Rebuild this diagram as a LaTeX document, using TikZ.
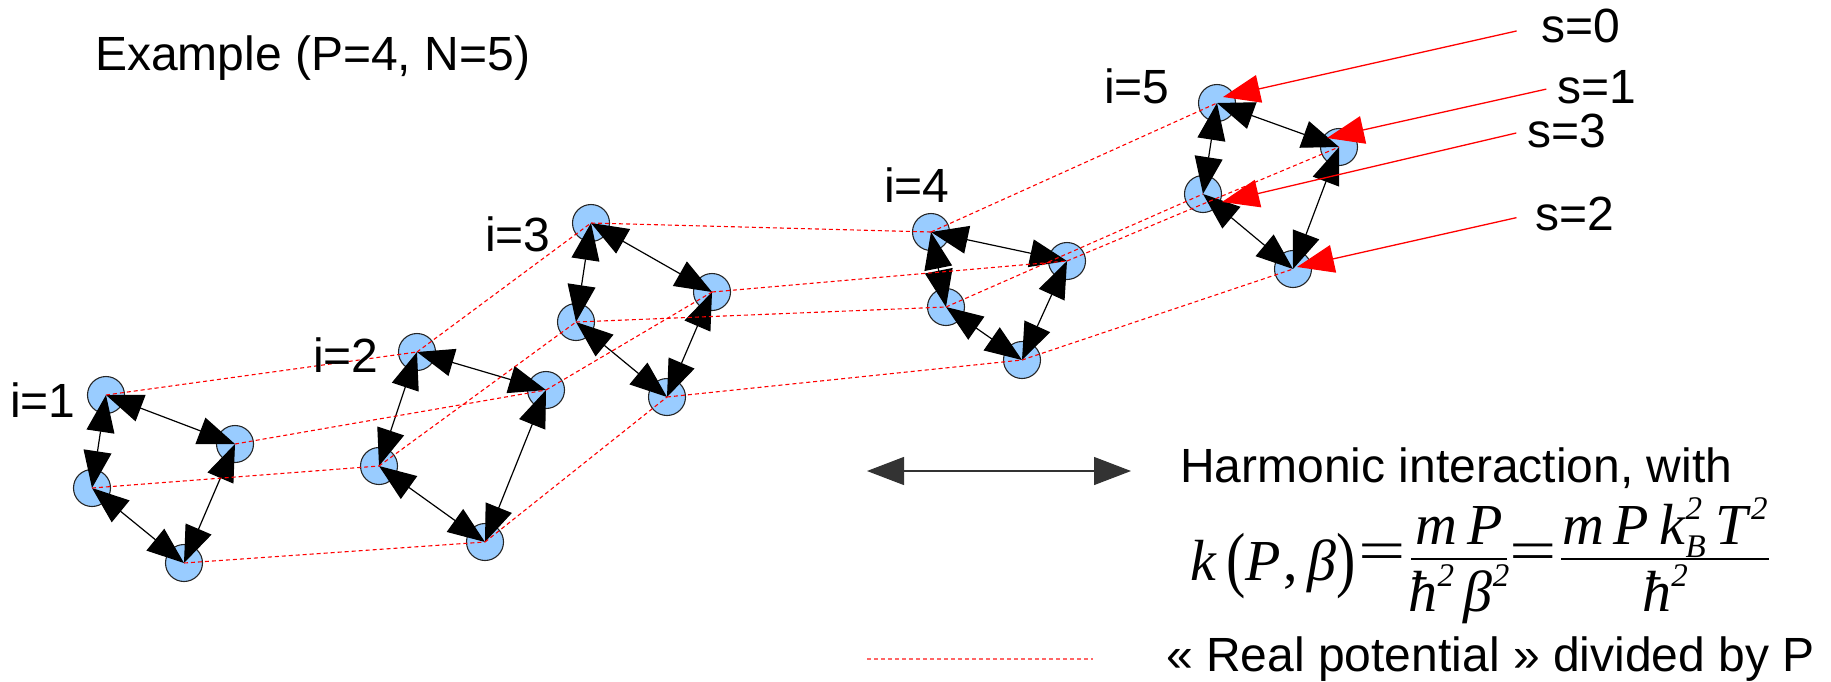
\documentclass[tikz,border=0pt]{standalone}
\usepackage{fontspec}
\usepackage{graphicx}
\setmainfont{Liberation Sans}
\newfontfamily\serifff{Liberation Serif}
\usetikzlibrary{arrows.meta}
\definecolor{beadblue}{RGB}{153,204,255}
\newcommand\supp[1]{\raisebox{0.42em}{\fontsize{33}{33}\selectfont #1}}
\newcommand\subsupp[2]{\makebox[0pt][l]{\raisebox{0.42em}{\fontsize{33}{33}\selectfont #2}}\raisebox{-0.24em}{\fontsize{33}{33}\selectfont #1}}
\begin{document}
\begin{tikzpicture}[x=1pt,y=-1pt,
  bead/.style={circle, draw=black!85, line width=1.1pt, fill=beadblue, minimum size=37pt, inner sep=0pt},
  harm/.style={black, line width=1.2pt, {Triangle[length=37pt,width=28pt]}-{Triangle[length=37pt,width=28pt]}},
  pot/.style={red, line width=1.1pt, dash pattern=on 4pt off 3pt},
  lbl/.style={anchor=base west, inner sep=0pt, font=\fontsize{48}{56}\selectfont},
  sarrow/.style={red, line width=1.3pt, -{Triangle[length=37pt,width=28pt]}},
  fml/.style={inner sep=0pt, font=\serifff\fontsize{58}{60}\selectfont},
  fbar/.style={black, line width=2.5pt},
]
\useasboundingbox (0,0) rectangle (1831,681);

% beads: t = top, r = right, b = bottom, l = left
\node[bead] (t1) at (106,395) {};
\node[bead] (r1) at (235,444) {};
\node[bead] (b1) at (184,563) {};
\node[bead] (l1) at (92,488) {};

\node[bead] (t2) at (417,352) {};
\node[bead] (r2) at (546,390) {};
\node[bead] (b2) at (485,542) {};
\node[bead] (l2) at (379,466) {};

\node[bead] (t3) at (591,223) {};
\node[bead] (r3) at (712,292) {};
\node[bead] (b3) at (667,397) {};
\node[bead] (l3) at (576,322) {};

\node[bead] (t4) at (931,232) {};
\node[bead] (r4) at (1067,261) {};
\node[bead] (b4) at (1022,360) {};
\node[bead] (l4) at (946,307) {};

\node[bead] (t5) at (1217,103) {};
\node[bead] (r5) at (1339,147) {};
\node[bead] (b5) at (1293,269) {};
\node[bead] (l5) at (1203,194) {};

% harmonic springs
\foreach \i in {1,...,5}{
  \draw[harm] (t\i.center) -- (r\i.center);
  \draw[harm] (r\i.center) -- (b\i.center);
  \draw[harm] (b\i.center) -- (l\i.center);
  \draw[harm] (l\i.center) -- (t\i.center);
}

% real potential links
\foreach \i/\j in {1/2,2/3,3/4,4/5}{
  \draw[pot] (t\i.center) -- (t\j.center);
  \draw[pot] (r\i.center) -- (r\j.center);
  \draw[pot] (b\i.center) -- (b\j.center);
  \draw[pot] (l\i.center) -- (l\j.center);
}

% labels
\node[lbl] (title) at (95,70) {Example (P=4, N=5)};
\node[lbl] (i1) at (10,417) {i=1};
\node[lbl] (i2) at (313,372) {i=2};
\node[lbl] (i3) at (485,251) {i=3};
\node[lbl] (i4) at (884,202) {i=4};
\node[lbl] (i5) at (1104,103) {i=5};

\node[lbl] (s0) at (1541,42) {s=0};
\node[lbl] (s1) at (1557,103) {s=1};
\node[lbl] (s3) at (1527,147) {s=3};
\node[lbl] (s2) at (1535,230) {s=2};

\coordinate (tip0) at (1223,97);
\coordinate (tip1) at (1327,138);
\coordinate (tip3) at (1222,202);
\coordinate (tip2) at (1297,267);
\draw[sarrow, shorten <=25pt] (s0.west) -- (tip0);
\draw[sarrow, shorten <=11pt] (s1.west) -- (tip1);
\draw[sarrow, shorten <=11pt] (s3.west) -- (tip3);
\draw[sarrow, shorten <=19pt] (s2.west) -- (tip2);

% legend
\coordinate (hl) at (867,471);
\coordinate (hr) at (1131,471);
\draw[harm, draw=black!80] (hl) -- (hr);
\node[lbl] (harmtxt) at (1180,482) {Harmonic interaction, with};

\coordinate (pl) at (867,659);
\coordinate (pr) at (1093,659);
\draw[pot, draw=red!60] (pl) -- (pr);
\node[lbl] (pottxt) at (1166,671) {« Real potential » divided by P};

% formula
\node[fml, anchor=base west] (fk) at (1190,580) {\textit{k}\,\raisebox{-0.06em}{\scalebox{1}[1.25]{(}}\textit{P}\kern2pt,\,\textit{β}\raisebox{-0.06em}{\scalebox{1}[1.25]{)}}};
\node[fml] (eq1) at (1382,557) {\scalebox{1.45}[1]{=}};
\node[fml, anchor=base] (n1) at (1459,544) {\textit{m}\,\textit{P}};
\draw[fbar] (1411,559) -- (1507,559);
\node[fml, anchor=base] (d1) at (1459,611) {\textit{ħ}\supp{\textit{2}}\,\textit{β}\supp{\textit{2}}};
\node[fml] (eq2) at (1533,557) {\scalebox{1.45}[1]{=}};
\node[fml, anchor=base] (n2) at (1665,544) {\textit{m}\,\textit{P}\,\textit{k}\subsupp{\textit{B}}{\textit{2}}\,\textit{T}\supp{\textit{2}}};
\draw[fbar] (1561,559) -- (1769,559);
\node[fml, anchor=base] (d2) at (1665,611) {\textit{ħ}\supp{\textit{2}}};
\end{tikzpicture}
\end{document}
